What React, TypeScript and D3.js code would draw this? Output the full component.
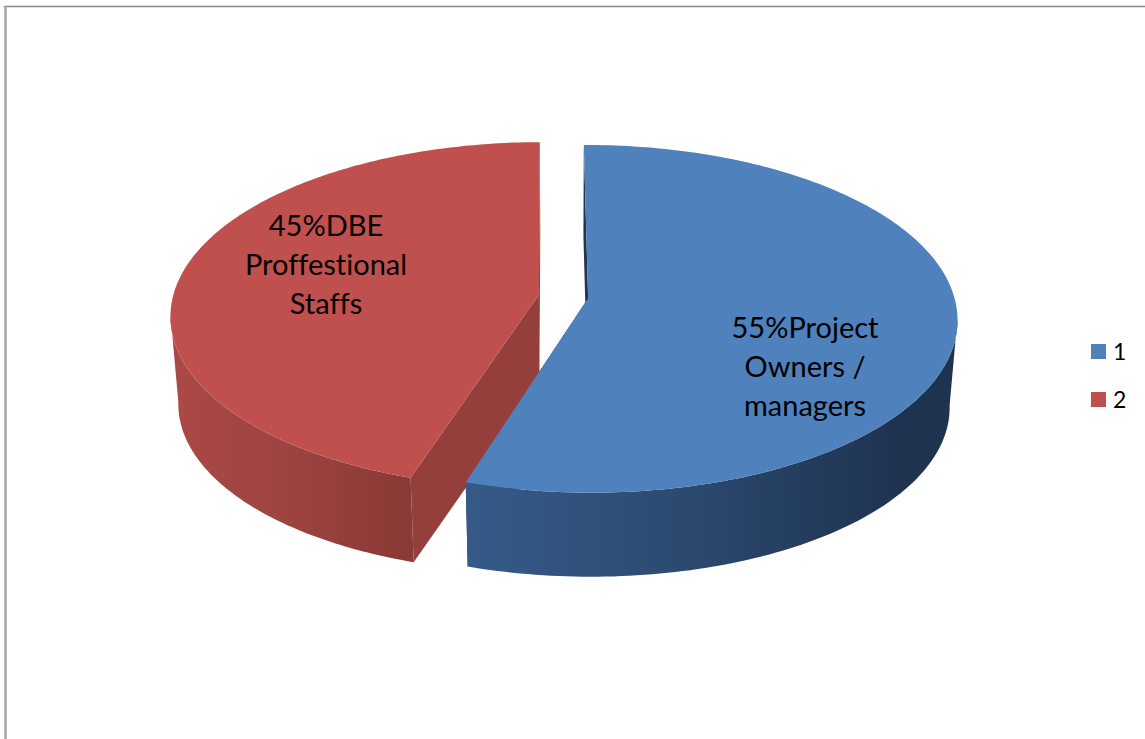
import React from "react";
import * as d3 from "d3";

// Share of respondents per group
const seriesNames = ["1", "2"];
const shares = [55, 45];
const sliceColors = ["#4f81bd", "#c0504d"];
const faceColors = ["#1f3550", "#943f3c"];
const wallStops = [
  ["#365a88", "#2c4a70", "#1e3350"],
  ["#ab4946", "#9c4340", "#8a3936"],
];
const sliceLabels = [
  ["55%Project", "Owners /", "managers"],
  ["45%DBE", "Proffestional", "Staffs"],
];

const WIDTH = 1145;
const HEIGHT = 739;
const FONT = "Lato, 'Open Sans', sans-serif";

// Tilted-disc projection: disc coordinates are in units of the pie radius
const center = { x: 563.5, y: 296.5 };
const radius = { x: 366, y: 171 };
const perspective = 0.118;
const explode = 0.068;
const depth = 88;
const bottomScale = 0.98;
const rotation = (-0.3 * Math.PI) / 180;
// Disc depth past which the outer wall faces the viewer
const silhouetteV = 0.1;

// Per-slice geometry that is not data: label anchors and legend rows
const labelAnchors = [
  { x: 805, y: 338 },
  { x: 326, y: 236 },
];
const labelLeading = 39;
const legendRows = d3.scaleOrdinal<string, number>().domain(seriesNames).range([351.5, 399.5]);

const xDisc = d3.scaleLinear().domain([-1, 1]).range([-radius.x, radius.x]);
const yDisc = d3.scaleLinear().domain([-1, 1]).range([-radius.y, radius.y]);

function project(u: number, v: number, lower: boolean): [number, number] {
  const w = 1 - perspective * v;
  const s = lower ? bottomScale : 1;
  return [
    center.x + (s * xDisc(u)) / w,
    center.y + (lower ? depth : 0) + (s * yDisc(v)) / w,
  ];
}

const pie = d3
  .pie<number>()
  .sort(null)
  .startAngle(rotation)
  .endAngle(rotation + 2 * Math.PI);

const toPath = d3.line<[number, number]>();

export default function App() {
  const arcs = pie(shares);

  const slices = arcs.map((arc) => {
    const mid = (arc.startAngle + arc.endAngle) / 2;
    const ex = Math.sin(mid) * explode;
    const ey = -Math.cos(mid) * explode;
    const apex = (lower: boolean) => project(ex, ey, lower);
    const rimAt = (a: number, lower: boolean) =>
      project(Math.sin(a) + ex, -Math.cos(a) + ey, lower);
    const steps = d3.range(0, 181).map((k) => arc.startAngle + ((arc.endAngle - arc.startAngle) * k) / 180);
    const topRim = steps.map((a) => rimAt(a, false));
    // Only the near part of the rim carries a visible wall
    const nearSteps = steps.filter((a) => -Math.cos(a) >= silhouetteV);
    const nearTop = nearSteps.map((a) => rimAt(a, false));
    const nearLow = nearSteps.map((a) => rimAt(a, true));
    const faceAt = (a: number) => [apex(false), rimAt(a, false), rimAt(a, true), apex(true)];
    return {
      top: toPath([apex(false), ...topRim])! + "Z",
      wall: toPath([...nearTop, ...[...nearLow].reverse()])! + "Z",
      faceStart: toPath(faceAt(arc.startAngle))! + "Z",
      faceEnd: toPath(faceAt(arc.endAngle))! + "Z",
    };
  });

  return (
    <svg
      width={WIDTH}
      height={HEIGHT}
      style={{ position: "absolute", left: 0, top: 0, display: "block", background: "#fff" }}
    >
      <defs>
        {wallStops.map((stops, i) => (
          <linearGradient
            key={i}
            id={`wall-${i}`}
            gradientUnits="userSpaceOnUse"
            x1={i === 0 ? 467 : 175}
            x2={i === 0 ? 900 : 412}
            y1={0}
            y2={0}
          >
            {stops.map((c, k) => (
              <stop key={k} offset={k / (stops.length - 1)} stopColor={c} />
            ))}
          </linearGradient>
        ))}
      </defs>

      {/* Chart area frame: only the top and left edges show */}
      <line x1={4} x2={WIDTH} y1={6.5} y2={6.5} stroke="#8a8a8a" strokeWidth={1.6} />
      <line x1={5.5} x2={5.5} y1={6} y2={HEIGHT} stroke="#a3a3a3" strokeWidth={2.4} />

      {/* Cut faces, then side walls, then the top surfaces */}
      {slices.map((s, i) => (
        <g key={i}>
          <path d={s.faceStart} fill={faceColors[i]} />
          <path d={s.faceEnd} fill={faceColors[i]} />
        </g>
      ))}
      {slices.map((s, i) => (
        <path key={i} d={s.wall} fill={`url(#wall-${i})`} />
      ))}
      {slices.map((s, i) => (
        <path key={i} d={s.top} fill={sliceColors[i]} />
      ))}

      {sliceLabels.map((lines, i) => (
        <text
          key={i}
          textAnchor="middle"
          fontFamily={FONT}
          fontSize={29}
          fill="#000"
          style={{ fontVariantLigatures: "none" }}
        >
          {lines.map((line, k) => (
            <tspan key={k} x={labelAnchors[i].x} y={labelAnchors[i].y + k * labelLeading}>
              {line}
            </tspan>
          ))}
        </text>
      ))}

      {seriesNames.map((name, i) => (
        <g key={name}>
          <rect
            x={1091}
            y={legendRows(name) - 7.5}
            width={15}
            height={15}
            fill={sliceColors[i]}
          />
          <text x={1113} y={legendRows(name) + 8} fontFamily={FONT} fontSize={23} fill="#000">
            {name}
          </text>
        </g>
      ))}
    </svg>
  );
}
